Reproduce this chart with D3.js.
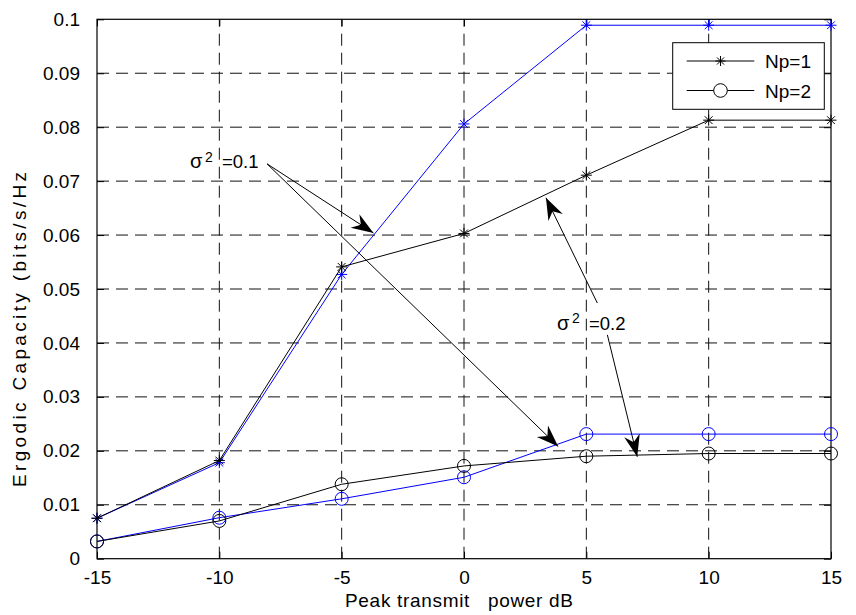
<!DOCTYPE html>
<html>
<head>
<meta charset="utf-8">
<script src="https://cdn.jsdelivr.net/npm/d3@7"></script>
<style>
	body { margin: 0; background: #fff; }
	svg text { font-family: "Liberation Sans", Arial, Helvetica, sans-serif; fill: #000; }
</style>
</head>
<body>
<svg id="chart" width="856" height="615"></svg>
<script>
"use strict";

// peak transmit power (dB)
var powerDb = [-15, -10, -5, 0, 5, 10, 15];
var xTicks = [-15, -10, -5, 0, 5, 10, 15];
var yTicks = [0, 0.01, 0.02, 0.03, 0.04, 0.05, 0.06, 0.07, 0.08, 0.09, 0.1];
var yTickLabels = ['0', '0.01', '0.02', '0.03', '0.04', '0.05', '0.06', '0.07', '0.08', '0.09', '0.1'];

// ergodic capacity, sigma^2 = 0.1 (blue) and 0.2 (black)
var np1Sigma01 = [0.0075, 0.0178, 0.0527, 0.0806, 0.0989, 0.0989, 0.0989];
var np2Sigma01 = [0.0032, 0.0076, 0.0111, 0.0151, 0.0231, 0.0231, 0.0231];
var np1Sigma02 = [0.0075, 0.0182, 0.0541, 0.0603, 0.0711, 0.0813, 0.0813];
var np2Sigma02 = [0.0032, 0.0070, 0.0138, 0.0172, 0.0190, 0.0195, 0.0195];

var legendLabels = ['Np=1', 'Np=2'];

// annotation arrows, [x0, y0, x1, y1] in data units
var arrows01 = [[-8.05, 0.0732, -3.70, 0.0604], [-8.05, 0.0732, 3.85, 0.0208]];
var arrows02 = [[5.45, 0.0474, 3.35, 0.0669], [5.86, 0.0415, 7.08, 0.0189]];
var labels = [{x: -11.2, y: 0.0724, value: '=0.1'}, {x: 3.80, y: 0.0424, value: '=0.2'}];

var svg = d3.select('#chart');
var plot = {left: 97, right: 831, top: 19.3, bottom: 558.7};

var x = d3.scaleLinear().domain([-15, 15]).range([plot.left, plot.right]);
var y = d3.scaleLinear().domain([0, 0.1]).range([plot.bottom, plot.top]);

//dashed grid
var grid = svg.append('g').attr('stroke', '#111').attr('stroke-width', 1)
	.attr('stroke-dasharray', '12,7');
grid.selectAll('.vg').data(xTicks.slice(1, -1)).enter().append('line')
	.attr('x1', function(d) { return x(d); }).attr('x2', function(d) { return x(d); })
	.attr('y1', plot.bottom).attr('y2', plot.top);
grid.selectAll('.hg').data(yTicks.slice(1, -1)).enter().append('line')
	.attr('y1', function(d) { return y(d); }).attr('y2', function(d) { return y(d); })
	.attr('x1', plot.left).attr('x2', plot.right);

//axes with inward ticks on all four sides
function styleAxis(g) {
	g.select('.domain').remove();
	g.selectAll('.tick line').attr('stroke', '#000');
	g.selectAll('.tick text').attr('font-size', '19px').attr('fill', '#000')
		.attr('font-family', 'Liberation Sans, Arial, sans-serif');
}
svg.append('g').attr('transform', 'translate(0,' + plot.bottom + ')')
	.call(d3.axisBottom(x).tickValues(xTicks).tickSizeInner(-7).tickSizeOuter(0).tickPadding(12)
		.tickFormat(function(d) { return String(d); }))
	.call(styleAxis);
svg.append('g').attr('transform', 'translate(0,' + plot.top + ')')
	.call(d3.axisTop(x).tickValues(xTicks).tickSizeInner(-7).tickSizeOuter(0).tickFormat(''))
	.call(styleAxis);
svg.append('g').attr('transform', 'translate(' + plot.left + ',0)')
	.call(d3.axisLeft(y).tickValues(yTicks).tickSizeInner(-7).tickSizeOuter(0).tickPadding(17)
		.tickFormat(function(d, i) { return yTickLabels[i]; }))
	.call(styleAxis);
svg.append('g').attr('transform', 'translate(' + plot.right + ',0)')
	.call(d3.axisRight(y).tickValues(yTicks).tickSizeInner(-7).tickSizeOuter(0).tickFormat(''))
	.call(styleAxis);

svg.append('rect').attr('x', plot.left).attr('y', plot.top)
	.attr('width', plot.right - plot.left).attr('height', plot.bottom - plot.top)
	.attr('fill', 'none').attr('stroke', '#000').attr('stroke-width', 1.2);

//series
var line = d3.line()
	.x(function(d, i) { return x(powerDb[i]); })
	.y(function(d) { return y(d); });

function starPath(r) {
	var d = r * Math.SQRT1_2;
	return 'M' + (-r) + ',0H' + r + 'M0,' + (-r) + 'V' + r +
		'M' + (-d) + ',' + (-d) + 'L' + d + ',' + d + 'M' + (-d) + ',' + d + 'L' + d + ',' + (-d);
}

function drawSeries(values, color, marker) {
	var g = svg.append('g');
	g.append('path').datum(values)
		.attr('d', line).attr('fill', 'none').attr('stroke', color).attr('stroke-width', 1);
	var pts = g.selectAll('.pt').data(values).enter();
	if(marker === 'star') {
		pts.append('path')
			.attr('transform', function(d, i) { return 'translate(' + x(powerDb[i]) + ',' + y(d) + ')'; })
			.attr('d', starPath(5.5)).attr('stroke', color).attr('stroke-width', 1).attr('fill', 'none');
	} else {
		pts.append('circle')
			.attr('cx', function(d, i) { return x(powerDb[i]); })
			.attr('cy', function(d) { return y(d); })
			.attr('r', 6.5).attr('stroke', color).attr('stroke-width', 1).attr('fill', 'none');
	}
}

drawSeries(np1Sigma01, '#0000ff', 'star');
drawSeries(np2Sigma01, '#0000ff', 'circle');
drawSeries(np1Sigma02, '#000', 'star');
drawSeries(np2Sigma02, '#000', 'circle');

//annotation arrows with swept-back heads
function drawArrow(a) {
	var x0 = x(a[0]), y0 = y(a[1]), x1 = x(a[2]), y1 = y(a[3]);
	var ang = Math.atan2(y1 - y0, x1 - x0) * 180 / Math.PI;
	svg.append('line').attr('x1', x0).attr('y1', y0).attr('x2', x1).attr('y2', y1)
		.attr('stroke', '#000').attr('stroke-width', 1);
	svg.append('path')
		.attr('transform', 'translate(' + x1 + ',' + y1 + ') rotate(' + ang + ')')
		.attr('d', 'M0,0L-22,-8L-15,0L-22,8Z').attr('fill', '#000');
}
arrows01.forEach(drawArrow);
arrows02.forEach(drawArrow);

labels.forEach(function(l) {
	var px = x(l.x), py = y(l.y);
	svg.append('text').attr('x', px).attr('y', py).attr('font-size', '20px')
		.attr('font-family', 'DejaVu Sans, sans-serif').text('σ');
	svg.append('text').attr('x', px + 15).attr('y', py - 6.5).attr('font-size', '14px').text('2');
	svg.append('text').attr('x', px + 32).attr('y', py).attr('font-size', '18.5px').text(l.value);
});

//legend
var legend = svg.append('g');
legend.append('rect').attr('x', 672.7).attr('y', 42.7).attr('width', 151.6).attr('height', 66.6)
	.attr('fill', '#fff').attr('stroke', '#000').attr('stroke-width', 1);
legendLabels.forEach(function(lab, i) {
	var ly = 61 + i * 29.5;
	legend.append('line').attr('x1', 686.7).attr('x2', 754.3).attr('y1', ly).attr('y2', ly)
		.attr('stroke', '#000').attr('stroke-width', 1);
	if(i === 0) {
		legend.append('path').attr('transform', 'translate(720.5,' + ly + ')')
			.attr('d', starPath(5)).attr('stroke', '#000').attr('fill', 'none');
	} else {
		legend.append('circle').attr('cx', 720.5).attr('cy', ly).attr('r', 6.8)
			.attr('fill', '#fff').attr('stroke', '#000');
	}
	legend.append('text').attr('x', 765).attr('y', ly + 7).attr('font-size', '19px').text(lab);
});

//axis titles
svg.append('text').attr('x', 345).attr('y', 607).attr('font-size', '19px')
	.attr('textLength', 228).attr('lengthAdjust', 'spacing')
	.style('white-space', 'pre').text('Peak transmit   power dB');
svg.append('text').attr('transform', 'translate(26,487) rotate(-90)').attr('font-size', '19px')
	.attr('textLength', 315).attr('lengthAdjust', 'spacing')
	.text('Ergodic Capacity (bits/s/Hz');
</script>
</body>
</html>
